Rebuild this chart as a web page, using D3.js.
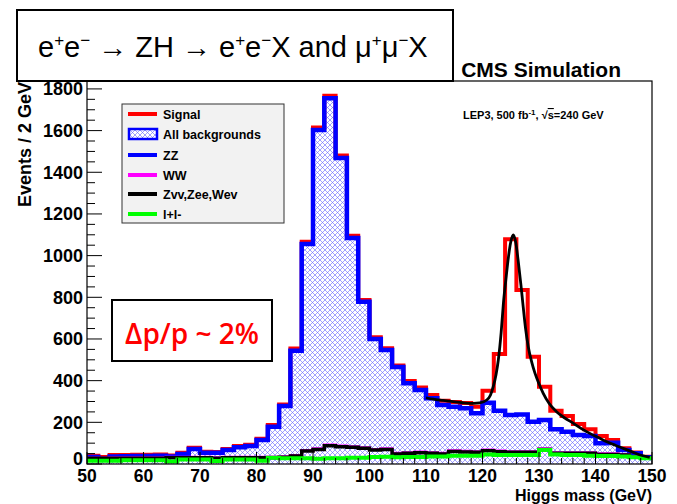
<!DOCTYPE html>
<html><head><meta charset="utf-8">
<script src="https://cdn.jsdelivr.net/npm/d3@7"></script>
<style>
body{margin:0;background:#fff}
text{font-family:"Liberation Sans",Arial,Helvetica,sans-serif}
</style>
</head><body>
<svg id="c" width="677" height="504"></svg>
<script>
// ---- data (events per 2 GeV bin; bin low edges) ----
const binLow = [50,52,54,56,58,60,62,64,66,68,70,72,74,76,78,80,82,84,86,88,90,92,94,96,98,100,102,104,106,108,110,112,114,116,118,120,122,124,126,128,130,132,134,136,138,140,142,144,146,148];
const allBackgrounds = [33,25,36,37,38,38,40,36,48,72,54,54,67,80,86,115,179,278,544,1056,1603,1755,1469,1085,779,600,547,465,388,355,316,283,275,268,243,294,256,235,238,203,211,167,155,139,134,99,102,67,51,32];
const signalPlusBkg = [40,33,43,43,44,44,46,41,54,78,59,58,72,86,92,121,187,286,554,1066,1615,1767,1481,1095,787,608,555,473,398,367,331,303,297,293,275,352,528,1079,835,515,371,256,230,192,167,134,115,75,55,35];
const zvvZeeWev = [27,27,28,28,28,28,28,30,30,30,30,28,30,30,30,30,30,32,38,62,70,88,83,80,75,67,70,48,51,54,51,48,60,58,56,64,59,56,56,56,70,51,51,51,51,46,46,43,32,27];
const wwValues = [29,29,30,30,30,30,30,32,32,32,32,30,32,32,32,32,33,35,41,65,73,91,86,83,78,70,73,51,54,57,54,51,63,61,59,67,62,59,59,59,73,54,54,54,54,49,49,46,34,29];
const llValues = [16,16,16,18,18,18,18,12,22,22,22,14,22,22,22,16,30,28,28,27,25,27,28,30,30,34,35,32,33,34,36,36,40,40,40,45,43,43,43,43,67,45,43,43,40,38,38,36,32,28];
const fitMass = [110,111.3,113,114.8,116.5,118.4,119.5,120.75,121.4,121.9,122.4,122.8,123.3,123.7,124.2,124.6,125.0,125.45,125.9,126.3,126.8,127.2,127.6,128.1,128.7,129.3,130.0,130.75,131.8,133.1,134.5,136.1,137.5,139.0,140.5,142.0,143.5,144.9,146.5,147.9,149.6];
const fitValues = [318,311,305,299,294,291,293,307,330,371,430,499,630,771,900,995,1065,1099,1060,979,860,755,655,563,490,435,385,339,290,251,222,195,170,147,127,107,90,75,58,43,32];
const yTicks = [0,200,400,600,800,1000,1200,1400,1600,1800];
const xTicks = [50,60,70,80,90,100,110,120,130,140,150];
const legendLabels = ["Signal","All backgrounds","ZZ","WW","Zvv,Zee,Wev","l+l-"];
const legendColors = ["#ff0000","#0000ff","#0000ff","#ff00ff","#000000","#00ff00"];

const binWidth = 2;
const svg = d3.select("#c");
svg.append("rect").attr("width",677).attr("height",504).attr("fill","#fff");

const defs = svg.append("defs");
const pat = defs.append("pattern").attr("id","hatch").attr("width",5).attr("height",5)
  .attr("patternUnits","userSpaceOnUse");
pat.append("rect").attr("width",5).attr("height",5).attr("fill","#fff");
pat.append("path").attr("d","M0,0L5,5M5,0L0,5M-1,4L1,6M4,-1L6,1M4,6L6,4M-1,1L1,-1")
  .attr("stroke","#3a3aff").attr("stroke-width",0.6).attr("opacity",0.8);

const L = 87, R = 652, T = 81, B = 464;
const x = d3.scaleLinear().domain([50,150]).range([L,R]);
const y = d3.scaleLinear().domain([0,1838]).range([B,T]);

function stepPts(vals){
  const pts = binLow.map((b,i)=>[b, vals[i]]);
  pts.push([binLow[binLow.length-1]+binWidth, vals[vals.length-1]]);
  return pts;
}
const stepLine = d3.line().x(d=>x(d[0])).y(d=>y(d[1])).curve(d3.curveStepAfter);
const stepArea = d3.area().x(d=>x(d[0])).y0(y(0)).y1(d=>y(d[1])).curve(d3.curveStepAfter);

const plot = svg.append("g");
plot.append("defs").append("clipPath").attr("id","clip").append("rect")
  .attr("x",L).attr("y",T).attr("width",R-L).attr("height",B-T);
const pg = plot.append("g").attr("clip-path","url(#clip)");

pg.append("path").attr("d",stepArea(stepPts(allBackgrounds))).attr("fill","url(#hatch)");
pg.append("path").attr("d",stepLine(stepPts(signalPlusBkg))).attr("fill","none")
  .attr("stroke","#ff0000").attr("stroke-width",4);
pg.append("path").attr("d",stepLine(stepPts(allBackgrounds))).attr("fill","none")
  .attr("stroke","#0000ff").attr("stroke-width",4.5);
pg.append("path").attr("d",stepLine(stepPts(wwValues))).attr("fill","none")
  .attr("stroke","#ff00ff").attr("stroke-width",3);
pg.append("path").attr("d",stepLine(stepPts(zvvZeeWev))).attr("fill","none")
  .attr("stroke","#000").attr("stroke-width",3.5);
pg.append("path").attr("d",stepLine(stepPts(llValues))).attr("fill","none")
  .attr("stroke","#00ff00").attr("stroke-width",4);
const fitLine = d3.line().x(d=>x(d[0])).y(d=>y(d[1])).curve(d3.curveMonotoneX);
pg.append("path").attr("d",fitLine(fitMass.map((m,i)=>[m,fitValues[i]]))).attr("fill","none")
  .attr("stroke","#000").attr("stroke-width",2.8);

// frame
svg.append("rect").attr("x",L).attr("y",T).attr("width",R-L).attr("height",B-T)
  .attr("fill","none").attr("stroke","#000").attr("stroke-width",1.2);

// y axis ticks (inside)
const yMinor = d3.range(0,1838,50);
svg.append("g").selectAll("line").data(yMinor).join("line")
  .attr("x1",L).attr("x2",d=>L+(d%200===0?15:8))
  .attr("y1",d=>y(d)).attr("y2",d=>y(d)).attr("stroke","#000").attr("stroke-width",1);
svg.append("g").selectAll("text").data(yTicks).join("text")
  .attr("x",L-4).attr("y",d=>y(d)-(d===0?5:0)).attr("dy","0.36em").attr("text-anchor","end")
  .attr("font-size",18).attr("font-weight","bold").text(d=>d);

// x axis ticks (inside)
const xMinor = d3.range(50,150.1,2);
svg.append("g").selectAll("line").data(xMinor).join("line")
  .attr("x1",d=>x(d)).attr("x2",d=>x(d))
  .attr("y1",B).attr("y2",d=>B-(d%10===0?12:6)).attr("stroke","#000").attr("stroke-width",1);
svg.append("g").selectAll("text").data(xTicks).join("text")
  .attr("x",d=>x(d)).attr("y",B+18).attr("text-anchor","middle")
  .attr("font-size",17.5).attr("font-weight","bold").text(d=>d);

// axis titles
svg.append("text").attr("x",R).attr("y",501).attr("text-anchor","end")
  .attr("font-size",16).attr("font-weight","bold").text("Higgs mass (GeV)");
svg.append("text").attr("transform",`translate(31,${T+1}) rotate(-90)`).attr("text-anchor","end")
  .attr("font-size",18).attr("font-weight","bold").text("Events / 2 GeV");

// CMS Simulation
svg.append("text").attr("x",621).attr("y",77).attr("text-anchor","end")
  .attr("font-size",21).attr("font-weight","bold").text("CMS Simulation");

// LEP3 label
const lep = svg.append("text").attr("x",463).attr("y",119).attr("font-size",11).attr("font-weight","bold");
lep.append("tspan").text("LEP3, 500 fb");
lep.append("tspan").attr("dy",-4).attr("font-size",8).text("-1");
lep.append("tspan").attr("dy",4).text(",  √");
lep.append("tspan").style("text-decoration","overline").text("s");
lep.append("tspan").text("=240 GeV");

// legend
const lg = svg.append("g");
lg.append("rect").attr("x",122).attr("y",104).attr("width",162).attr("height",119)
  .attr("fill","#f2f2f2").attr("stroke","#333").attr("stroke-width",1);
const ly = [114,134,155,175,194,214];
legendLabels.forEach((lab,i)=>{
  if(i===1){
    lg.append("rect").attr("x",129).attr("y",ly[i]-5).attr("width",28).attr("height",10)
      .attr("fill","url(#hatch)").attr("stroke","#0000ff").attr("stroke-width",2.5);
  } else {
    lg.append("line").attr("x1",128).attr("x2",157).attr("y1",ly[i]).attr("y2",ly[i])
      .attr("stroke",legendColors[i]).attr("stroke-width",4);
  }
  lg.append("text").attr("x",163).attr("y",ly[i]).attr("dy","0.36em")
    .attr("font-size",12.5).attr("font-weight","bold").text(lab);
});

// title box
svg.append("rect").attr("x",17).attr("y",10).attr("width",436).attr("height",71)
  .attr("fill","#fff").attr("stroke","#000").attr("stroke-width",2);
const tt = svg.append("text").attr("x",38).attr("y",57).attr("font-size",29);
const parts = [["e",0],["+",1],["e",0],["−",1],[" → ZH → e",0],["+",1],["e",0],["−",1],["X and μ",0],["+",1],["μ",0],["−",1],["X",0]];
let prev = 0;
parts.forEach(([s,sup])=>{
  const t = tt.append("tspan").text(s);
  if(sup){ t.attr("font-size",17).attr("dy", prev? 0 : -11); }
  else { t.attr("dy", prev? 11 : 0); }
  prev = sup;
});

// Δp/p box
svg.append("rect").attr("x",112).attr("y",300).attr("width",160).attr("height",61)
  .attr("fill","#fff").attr("stroke","#000").attr("stroke-width",2);
svg.append("text").attr("x",192).attr("y",344).attr("text-anchor","middle")
  .attr("font-size",28).attr("font-weight","600").attr("fill","#ff0000")
  .style("font-family","'Open Sans',sans-serif").text("Δp/p ~ 2%");
</script>
</body></html>
